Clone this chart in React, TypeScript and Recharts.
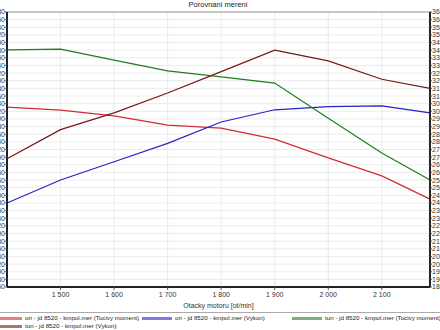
import { LineChart, Line, XAxis, YAxis, CartesianGrid, ReferenceLine } from 'recharts';

// engine speed [ot/min]
const rpm = [1400, 1500, 1600, 1700, 1800, 1900, 2000, 2100, 2190];
// torque [Nm] – left axis
const oriMoment = [1431, 1423, 1408, 1384, 1376, 1347, 1298, 1251, 1190];
const tunMoment = [1581, 1583, 1554, 1526, 1510, 1494, 1402, 1311, 1240];
// power [kW] – right axis
const oriVykon = [240, 255, 267, 279, 293, 301, 303, 303.5, 299];
const tunVykon = [269, 288, 299, 312, 326, 340, 333, 321, 315];

const xTicks = [1500, 1600, 1700, 1800, 1900, 2000, 2100];
const leftTicks = Array.from({ length: 37 }, (_, i) => 960 + i * 20);
const rightTicks = Array.from({ length: 37 }, (_, i) => 185 + i * 5);

const series = [
  { key: 'oriMoment', name: 'ori - jd 8520 - kmpol.mer  (Tocivy moment)', color: '#d42a35', axis: 'left' },
  { key: 'oriVykon', name: 'ori - jd 8520 - kmpol.mer  (Vykon)', color: '#2424c4', axis: 'right' },
  { key: 'tunMoment', name: 'tun - jd 8520 - kmpol.mer  (Tocivy moment)', color: '#1e7d1e', axis: 'left' },
  { key: 'tunVykon', name: 'tun - jd 8520 - kmpol.mer  (Vykon)', color: '#761818', axis: 'right' },
];

const data = rpm.map((r, i) => ({
  rpm: r,
  oriMoment: oriMoment[i],
  tunMoment: tunMoment[i],
  oriVykon: oriVykon[i],
  tunVykon: tunVykon[i],
}));

const font = 'Liberation Sans, Arial, sans-serif';
const fmtRpm = (v: number) => {
  const s = String(v);
  return s.length > 3 ? s.slice(0, s.length - 3) + ' ' + s.slice(-3) : s;
};

export default function App() {
  return (
    <div
      style={{
        position: 'fixed',
        left: 0,
        top: 0,
        width: 440,
        height: 330,
        overflow: 'hidden',
        background: '#fff',
        fontFamily: font,
      }}
    >
      <div style={{ position: 'absolute', top: 0, left: 0, width: 436, textAlign: 'center', fontSize: 7.5, color: '#222', lineHeight: '10px' }}>
        Porovnani mereni
      </div>
      <LineChart width={440} height={310} data={data} margin={{ top: 12, right: 0, left: 0, bottom: 0 }}>
        <CartesianGrid yAxisId="left" stroke="#e6e6e6" strokeWidth={0.8} />
        <XAxis
          dataKey="rpm"
          type="number"
          domain={[1400, 2190]}
          ticks={xTicks}
          tickFormatter={fmtRpm}
          height={23}
          tickSize={3}
          axisLine={{ stroke: '#222', strokeWidth: 2 }}
          tickLine={{ stroke: '#555' }}
          tick={{ fontSize: 7, fill: '#333', fontFamily: font }}
          label={{ value: 'Otacky motoru [ot/min]', position: 'insideBottom', offset: 2, fontSize: 7, fill: '#333', fontFamily: font }}
        />
        <YAxis
          yAxisId="left"
          domain={[960, 1680]}
          ticks={leftTicks}
          interval={0}
          width={7}
          tickSize={2}
          tickMargin={0}
          axisLine={{ stroke: '#222', strokeWidth: 2 }}
          tickLine={{ stroke: '#555' }}
          tick={{ fontSize: 7, fill: '#333', fontFamily: font }}
        />
        <YAxis
          yAxisId="right"
          orientation="right"
          domain={[185, 365]}
          ticks={rightTicks}
          interval={0}
          width={10}
          tickSize={2}
          tickMargin={0}
          axisLine={{ stroke: '#222', strokeWidth: 2 }}
          tickLine={{ stroke: '#555' }}
          tick={{ fontSize: 7, fill: '#333', fontFamily: font }}
        />
        <ReferenceLine yAxisId="left" y={1680} stroke="#999" strokeWidth={1} />
        {series.map(s => (
          <Line
            key={s.key}
            yAxisId={s.axis}
            dataKey={s.key}
            name={s.name}
            type="linear"
            stroke={s.color}
            strokeWidth={1.2}
            dot={false}
            isAnimationActive={false}
          />
        ))}
      </LineChart>
      <div style={{ position: 'absolute', top: 312, left: 0, width: 440, borderTop: '1px solid #aaa' }} />
      <div
        style={{
          position: 'absolute',
          top: 314,
          left: -8,
          width: 460,
          display: 'grid',
          gridTemplateColumns: '150px 150px 150px',
          rowGap: 0,
          fontSize: 6.2,
          color: '#222',
          lineHeight: '8px',
        }}
      >
        {series.map(s => (
          <div key={s.key} style={{ display: 'flex', alignItems: 'center', whiteSpace: 'nowrap' }}>
            <span style={{ display: 'inline-block', width: 30, height: 3, background: s.color, opacity: 0.6, marginRight: 3 }} />
            {s.name}
          </div>
        ))}
      </div>
    </div>
  );
}
